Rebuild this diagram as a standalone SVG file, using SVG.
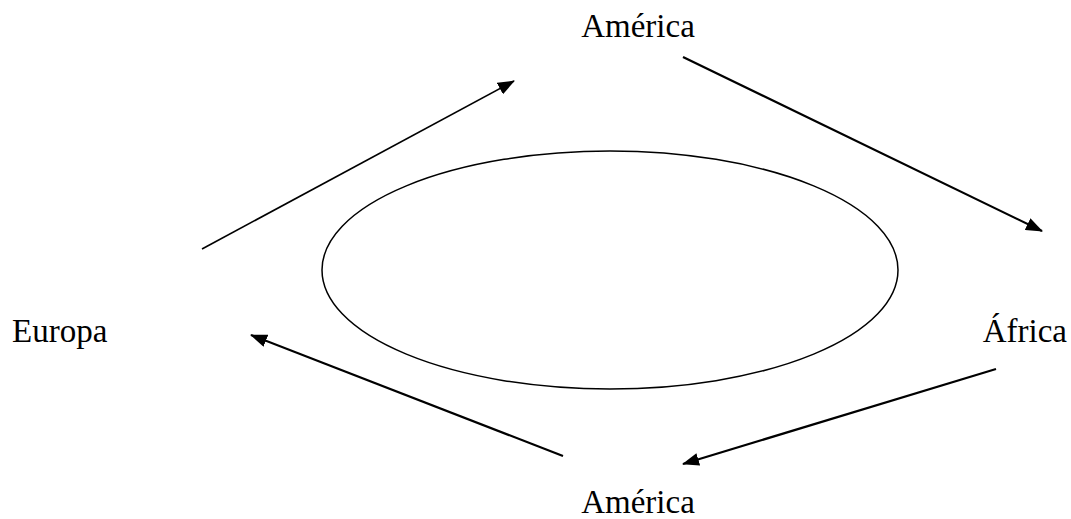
<svg xmlns="http://www.w3.org/2000/svg" width="1071" height="519" viewBox="0 0 1071 519">
<style>
.lbl{font-family:"Liberation Serif","Times New Roman",serif;font-size:33px;fill:#000}
.con{stroke:#000;stroke-width:2.2;fill:none}
</style>
<defs>
<marker id="ah" viewBox="0 0 17 13" refX="16" refY="6.5" markerWidth="17" markerHeight="13" markerUnits="userSpaceOnUse" orient="auto">
<path d="M0,0 L17,6.5 L0,13 z" fill="#000"/>
</marker>
</defs>
<rect width="1071" height="519" fill="#fff"/>
<g id="cycle"><ellipse cx="610" cy="270" rx="288" ry="119" fill="none" stroke="#000" stroke-width="1.5"/></g>
<g id="america-top"><text class="lbl" x="638" y="37" text-anchor="middle">América</text></g>
<g id="europa"><text class="lbl" x="12" y="342">Europa</text></g>
<g id="africa"><text class="lbl" x="1067" y="342" text-anchor="end">África</text></g>
<g id="america-bottom"><text class="lbl" x="638" y="513" text-anchor="middle">América</text></g>
<g id="connectors">
<line class="con" x1="202" y1="249" x2="514" y2="81" style="stroke-width:1.6" marker-end="url(#ah)"/>
<line class="con" x1="683" y1="57" x2="1042" y2="231" marker-end="url(#ah)"/>
<line class="con" x1="996" y1="369" x2="683" y2="464" marker-end="url(#ah)"/>
<line class="con" x1="563" y1="456" x2="251" y2="335" marker-end="url(#ah)"/>
</g>
</svg>
